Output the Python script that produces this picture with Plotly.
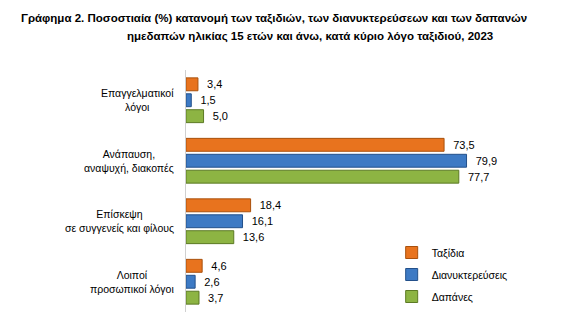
import plotly.graph_objects as go

categories = ["Επαγγελματικοί<br>λόγοι", "Ανάπαυση,<br>αναψυχή, διακοπές",
              "Επίσκεψη<br>σε συγγενείς και φίλους", "Λοιποί<br>προσωπικοί λόγοι"]
series_names = ["Ταξίδια", "Διανυκτερεύσεις", "Δαπάνες"]
trips = [3.4, 73.5, 18.4, 4.6]
nights = [1.5, 79.9, 16.1, 2.6]
spend = [5.0, 77.7, 13.6, 3.7]
colors = ["#E8731E", "#3D7AC4", "#8DB443"]
line_colors = ["#A9500C", "#23508A", "#5C7A24"]

W, H = 565, 334
L, R, T, B = 186, 62.5, 70, 22
PW, PH = W - L - R, H - T - B


def px(x):
    return (x - L) / PW


def py(y):
    return 1 - (y - T) / PH


fig = go.Figure()
for name, vals, c, lc in zip(series_names, [trips, nights, spend], colors, line_colors):
    fig.add_trace(go.Bar(
        y=categories, x=vals, orientation="h", name=name,
        legendgroup=name,
        marker=dict(color=c, line=dict(color=lc, width=1)),
        texttemplate="\u00a0\u00a0%{x:.1f}", textposition="outside",
        textfont=dict(family="Liberation Sans", size=11, color="#000000"),
        cliponaxis=False,
    ))

for cat in categories:
    fig.add_annotation(x=0, xref="paper", y=cat, yref="y", text=cat,
                       xanchor="right", yanchor="middle", align="center",
                       xshift=-10, showarrow=False,
                       font=dict(family="Liberation Sans", size=10.5, color="#000000"))

title_font = dict(family="Liberation Sans", size=11.5, color="#000000")
fig.add_annotation(x=px(274), y=py(18), xref="paper", yref="paper", yanchor="middle",
                   xanchor="center", showarrow=False,
                   text="<b>Γράφημα 2. Ποσοστιαία (%) κατανομή των ταξιδιών, των διανυκτερεύσεων και των δαπανών</b>",
                   font=title_font)
fig.add_annotation(x=px(310), y=py(36), xref="paper", yref="paper", yanchor="middle",
                   xanchor="center", showarrow=False,
                   text="<b>ημεδαπών ηλικίας 15 ετών και άνω, κατά κύριο λόγο ταξιδιού, 2023</b>",
                   font=title_font)

fig.update_layout(
    width=W, height=H,
    margin=dict(l=L, r=R, t=T, b=B),
    barmode="group", bargap=0.21, bargroupgap=0.19,
    separators=",.",
    plot_bgcolor="white", paper_bgcolor="white",
    showlegend=True,
    legend=dict(x=px(392), xanchor="left", xref="paper", y=py(238), yanchor="top",
                yref="paper", font=dict(family="Liberation Sans", size=10.5, color="#000000"),
                tracegroupgap=3, bgcolor="rgba(0,0,0,0)", itemwidth=30),
    xaxis=dict(range=[0, 90], visible=False, fixedrange=True),
    yaxis=dict(autorange="reversed", showticklabels=False, showline=True,
               linecolor="#D0D0D0", linewidth=1, ticks="", showgrid=False,
               zeroline=False),
    font=dict(family="Liberation Sans"),
)
fig.update_xaxes(automargin=False)
fig.update_yaxes(automargin=False)

fig.write_html("out.html")
